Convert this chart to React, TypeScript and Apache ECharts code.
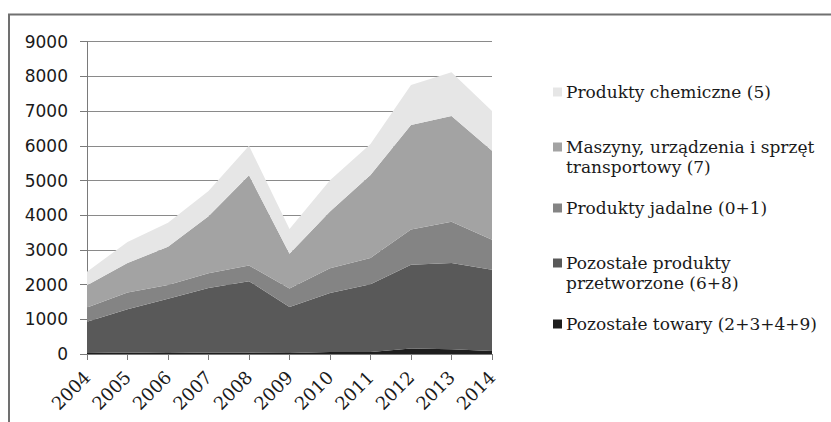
import React, { useEffect, useRef } from "react";
import * as echarts from "echarts";

const years = ["2004", "2005", "2006", "2007", "2008", "2009", "2010", "2011", "2012", "2013", "2014"];
const otherGoods = [30, 40, 30, 40, 40, 30, 60, 60, 160, 140, 90];
const otherProcessed = [900, 1250, 1560, 1860, 2060, 1325, 1700, 1950, 2410, 2480, 2340];
const food = [410, 485, 400, 430, 450, 535, 710, 760, 1020, 1190, 860];
const machinery = [640, 845, 1100, 1640, 2600, 1000, 1640, 2390, 3010, 3050, 2570];
const chemical = [390, 610, 690, 730, 850, 710, 900, 890, 1150, 1260, 1140];
const yTicks = [0, 1000, 2000, 3000, 4000, 5000, 6000, 7000, 8000, 9000];

const seriesDefs = [
  { name: "Pozostałe towary (2+3+4+9)", label: ["Pozostałe towary (2+3+4+9)"], data: otherGoods, color: "#1e1e1e", y: 324 },
  { name: "Pozostałe produkty przetworzone (6+8)", label: ["Pozostałe produkty", "przetworzone (6+8)"], data: otherProcessed, color: "#595959", y: 263 },
  { name: "Produkty jadalne (0+1)", label: ["Produkty jadalne (0+1)"], data: food, color: "#848484", y: 208 },
  { name: "Maszyny, urządzenia i sprzęt transportowy (7)", label: ["Maszyny, urządzenia i sprzęt", "transportowy (7)"], data: machinery, color: "#a3a3a3", y: 147 },
  { name: "Produkty chemiczne (5)", label: ["Produkty chemiczne (5)"], data: chemical, color: "#e6e6e6", y: 92 },
];

export default function App() {
  const ref = useRef<HTMLDivElement>(null);
  useEffect(() => {
    if (!ref.current) return;
    const chart = echarts.init(ref.current, null, { renderer: "svg" });
    const legendGraphics: any[] = [];
    seriesDefs.forEach((s) => {
      legendGraphics.push({
        type: "rect",
        shape: { x: 553, y: s.y - 4.5, width: 9, height: 9 },
        style: { fill: s.color },
      });
      s.label.forEach((line, i) => {
        legendGraphics.push({
          type: "text",
          x: 566,
          y: s.y + i * 20,
          style: {
            text: line,
            font: "17px 'DejaVu Serif'",
            fill: "#1a1a1a",
            textVerticalAlign: "middle",
            verticalAlign: "middle",
          },
        });
      });
    });
    chart.setOption({
      animation: false,
      backgroundColor: "#ffffff",
      grid: { left: 87, right: 339, top: 41.7, bottom: 68, containLabel: false },
      xAxis: {
        type: "category",
        data: years,
        boundaryGap: false,
        axisLine: { show: true, lineStyle: { color: "#7a7a7a", width: 1 } },
        axisTick: { show: true, length: 6, alignWithLabel: true, lineStyle: { color: "#7a7a7a" } },
        axisLabel: {
          rotate: 45,
          margin: 20,
          interval: 0,
          color: "#1a1a1a",
          fontFamily: "DejaVu Serif",
          fontSize: 18,
        },
        splitLine: { show: false },
      },
      yAxis: {
        type: "value",
        min: 0,
        max: 9000,
        interval: 1000,
        axisLine: { show: true, lineStyle: { color: "#7a7a7a", width: 1 } },
        axisTick: { show: true, length: 7, lineStyle: { color: "#7a7a7a" } },
        axisLabel: {
          margin: 19,
          color: "#1a1a1a",
          fontFamily: "DejaVu Sans",
          fontSize: 17,
          formatter: (v: number) => (yTicks.includes(v) ? String(v) : ""),
        },
        splitLine: { show: true, lineStyle: { color: "#8a8a8a", width: 1 } },
      },
      series: seriesDefs.map((s) => ({
        name: s.name,
        type: "line",
        stack: "total",
        data: s.data,
        symbol: "none",
        lineStyle: { width: 0 },
        areaStyle: { color: s.color, opacity: 1 },
        itemStyle: { color: s.color },
      })),
      graphic: [
        {
          type: "rect",
          shape: { x: 9, y: 14.5, width: 900, height: 500 },
          style: { fill: "none", stroke: "#707070", lineWidth: 2 },
          silent: true,
        },
        ...legendGraphics,
      ],
    });
    return () => chart.dispose();
  }, []);
  return (
    <div
      ref={ref}
      style={{ position: "absolute", left: 0, top: 0, width: 831, height: 422 }}
    />
  );
}
